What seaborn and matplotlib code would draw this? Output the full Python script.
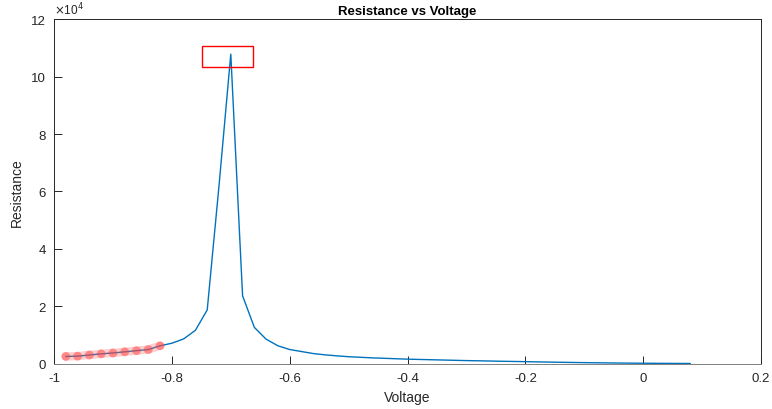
import matplotlib
matplotlib.use("Agg")
import matplotlib.pyplot as plt
import matplotlib.ticker as mticker
from matplotlib.patches import Rectangle
import seaborn as sns
import pandas as pd

# ---- data ----
voltage = [-0.98, -0.96, -0.94, -0.92, -0.90, -0.88, -0.86, -0.84, -0.82, -0.80,
           -0.78, -0.76, -0.74, -0.72, -0.70, -0.68, -0.66, -0.64, -0.62, -0.60,
           -0.58, -0.56, -0.54, -0.52, -0.50, -0.48, -0.46, -0.44, -0.42, -0.40,
           -0.38, -0.36, -0.34, -0.32, -0.30, -0.28, -0.26, -0.24, -0.22, -0.20,
           -0.18, -0.16, -0.14, -0.12, -0.10, -0.08, -0.06, -0.04, -0.02, 0.00,
           0.02, 0.04, 0.06, 0.08]
resistance = [2600, 2700, 3100, 3500, 3800, 4200, 4600, 5000, 6300, 7200,
              8700, 11700, 18800, 62000, 107800, 23700, 12700, 8600, 6300, 5000,
              4300, 3600, 3150, 2800, 2500, 2300, 2100, 1950, 1800, 1650,
              1550, 1450, 1350, 1250, 1150, 1080, 1000, 920, 850, 780,
              700, 630, 560, 500, 440, 390, 340, 300, 260, 230,
              200, 180, 160, 140]
n_highlight = 9  # first points highlighted in red

x_ticks = [-1, -0.8, -0.6, -0.4, -0.2, 0, 0.2]
y_ticks = [0, 20000, 40000, 60000, 80000, 100000, 120000]
y_scale = 1e4

df = pd.DataFrame({"Voltage": voltage, "Resistance": resistance})
df_hi = df.iloc[:n_highlight]

sns.set_theme(style="white")
plt.rcParams["font.family"] = ["Liberation Sans", "DejaVu Sans"]
plt.rcParams["axes.unicode_minus"] = False

fig = plt.figure(figsize=(7.72, 4.10), dpi=100)
ax = fig.add_axes([0.070, 0.110, 0.9158, 0.841])

sns.lineplot(data=df, x="Voltage", y="Resistance", ax=ax, color="#0072BD",
             linewidth=1.0, sort=False)
ax.plot(df_hi["Voltage"], df_hi["Resistance"], color="#ff6060", alpha=0.3,
        linewidth=6, solid_capstyle="round", zorder=3)
sns.scatterplot(data=df_hi, x="Voltage", y="Resistance", ax=ax, color="#ff4040",
                alpha=0.5, s=40, edgecolor="none", zorder=4)

# highlight box around the peak
i_peak = df["Resistance"].idxmax()
px, py = df.loc[i_peak, "Voltage"], df.loc[i_peak, "Resistance"]
ax.add_patch(Rectangle((px - 0.049, py - 4500), 0.087, 7400, fill=False,
                       edgecolor="red", linewidth=1.0, zorder=5))

ax.set_xlim(-1, 0.2)
ax.set_ylim(0, 120000)
ax.set_xticks(x_ticks)
ax.set_yticks(y_ticks)
ax.xaxis.set_major_formatter(mticker.FuncFormatter(lambda v, p: "%g" % round(v, 3)))
ax.yaxis.set_major_formatter(mticker.FuncFormatter(lambda v, p: "%g" % round(v / y_scale, 3)))
ax.text(0.0, 1.006, r"$\times$10$^{4}$", transform=ax.transAxes, fontsize=8.5,
        color="#262626", ha="left", va="bottom")

ax.tick_params(direction="in", length=6, width=0.7, colors="#262626",
               labelsize=9.5, bottom=True, left=True, top=False, right=False, pad=6)
for s in ax.spines.values():
    s.set_visible(True)
    s.set_color("#262626")
    s.set_linewidth(0.7)
ax.spines["bottom"].set_color("#808080")

ax.set_xlabel("Voltage", fontsize=10, color="#262626", labelpad=4)
ax.set_ylabel("Resistance", fontsize=10, color="#262626", labelpad=5)
ax.set_title("Resistance vs Voltage", fontsize=9.5, fontweight="bold",
             color="black", pad=4)

fig.savefig("out.png", dpi=100)
